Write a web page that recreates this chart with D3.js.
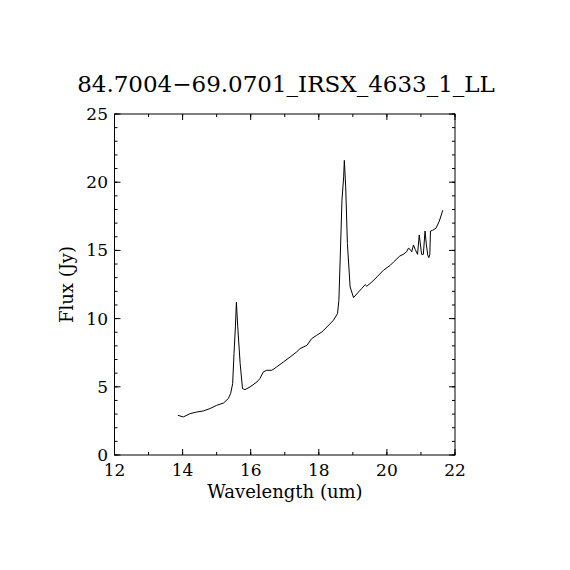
<!DOCTYPE html>
<html>
<head>
<meta charset="utf-8">
<script src="https://cdn.jsdelivr.net/npm/d3@7"></script>
<style>
  body { margin: 0; background: #fff; }
  svg { display: block; }
  text { font-family: "DejaVu Serif", "Liberation Serif", serif; fill: #000; }
</style>
</head>
<body>
<svg id="chart" width="570" height="570"></svg>
<script>
const title = "84.7004\u221269.0701_IRSX_4633_1_LL";

// spectrum
const wavelength = [13.86, 14.02, 14.22, 14.41, 14.61, 14.80, 15.00, 15.20, 15.34, 15.41, 15.47, 15.51, 15.55, 15.58,
  15.62, 15.69, 15.76, 15.83, 15.98, 16.18, 16.27, 16.37, 16.47, 16.62, 16.76, 16.96, 17.16, 17.35, 17.45,
  17.65, 17.79, 17.94, 18.09, 18.24, 18.43, 18.55, 18.59, 18.63, 18.68, 18.73, 18.75, 18.79, 18.84, 18.92,
  19.02, 19.17, 19.26, 19.36, 19.41, 19.56, 19.71, 19.90, 20.10, 20.20, 20.38, 20.48, 20.58, 20.63, 20.68,
  20.73, 20.78, 20.83, 20.90, 20.95, 21.02, 21.07, 21.12, 21.16, 21.20, 21.23, 21.26, 21.28, 21.34, 21.44,
  21.54, 21.64];
const flux = [2.91, 2.79, 3.03, 3.15, 3.23, 3.40, 3.64, 3.81, 4.13, 4.50, 5.23, 7.43, 9.39, 11.2,
  9.39, 6.70, 4.87, 4.79, 4.99, 5.35, 5.60, 6.09, 6.21, 6.21, 6.45, 6.82, 7.19, 7.56, 7.80,
  8.04, 8.53, 8.78, 9.02, 9.39, 9.88, 10.37, 11.34, 14.52, 18.68, 20.39, 21.6, 19.66, 15.5, 12.32,
  11.54, 11.96, 12.20, 12.49, 12.37, 12.69, 13.06, 13.55, 13.91, 14.16, 14.59, 14.71, 14.9, 15.15, 15.08,
  14.9, 15.4, 15.08, 14.71, 16.13, 14.71, 14.71, 16.42, 15.4, 14.66, 14.47, 14.71, 16.42, 16.47, 16.62,
  17.15, 17.94];

const xTicks = [12, 14, 16, 18, 20, 22];
const yTicks = [0, 5, 10, 15, 20, 25];

const margin = { left: 114.5, right: 455, top: 114, bottom: 455 };

const svg = d3.select("#chart");

const x = d3.scaleLinear().domain([12, 22]).range([margin.left, margin.right]);
const y = d3.scaleLinear().domain([0, 25]).range([margin.bottom, margin.top]);

const data = wavelength.map((w, i) => [w, flux[i]]);

// frame
svg.append("rect")
  .attr("x", margin.left).attr("y", margin.top)
  .attr("width", margin.right - margin.left).attr("height", margin.bottom - margin.top)
  .attr("fill", "none").attr("stroke", "#000").attr("stroke-width", 1);

// ticks pointing inward on all four sides
const xMinor = d3.range(12, 22.01, 1);
const yMinor = d3.range(0, 25.01, 1);

function tickLines(g, vals, scale, horiz, len) {
  vals.forEach(v => {
    const p = scale(v);
    if (horiz) {
      g.append("line").attr("x1", p).attr("x2", p).attr("y1", margin.bottom).attr("y2", margin.bottom - len);
      g.append("line").attr("x1", p).attr("x2", p).attr("y1", margin.top).attr("y2", margin.top + len);
    } else {
      g.append("line").attr("y1", p).attr("y2", p).attr("x1", margin.left).attr("x2", margin.left + len);
      g.append("line").attr("y1", p).attr("y2", p).attr("x1", margin.right).attr("x2", margin.right - len);
    }
  });
}

const ticks = svg.append("g").attr("stroke", "#000").attr("stroke-width", 1);
tickLines(ticks, xMinor, x, true, 3);
tickLines(ticks, xTicks, x, true, 6);
tickLines(ticks, yMinor, y, false, 3);
tickLines(ticks, yTicks, y, false, 6);

// tick labels
svg.append("g").selectAll("text")
  .data(xTicks).enter().append("text")
  .attr("x", d => x(d)).attr("y", 476)
  .attr("text-anchor", "middle")
  .attr("font-size", 17)
  .text(d => d);

svg.append("g").selectAll("text")
  .data(yTicks).enter().append("text")
  .attr("x", 108).attr("y", d => y(d) + 6)
  .attr("text-anchor", "end")
  .attr("font-size", 17)
  .text(d => d);

// axis titles
svg.append("text")
  .attr("x", 285).attr("y", 498)
  .attr("text-anchor", "middle").attr("font-size", 18)
  .text("Wavelength (um)");

svg.append("text")
  .attr("transform", `translate(73,${(margin.top + margin.bottom) / 2}) rotate(-90)`)
  .attr("text-anchor", "middle").attr("font-size", 18)
  .text("Flux (Jy)");

svg.append("text")
  .attr("x", 286).attr("y", 92)
  .attr("text-anchor", "middle").attr("font-size", 23)
  .text(title);

// spectrum
svg.append("path")
  .datum(data)
  .attr("fill", "none")
  .attr("stroke", "#000")
  .attr("stroke-width", 1)
  .attr("d", d3.line().x(d => x(d[0])).y(d => y(d[1])));
</script>
</body>
</html>
